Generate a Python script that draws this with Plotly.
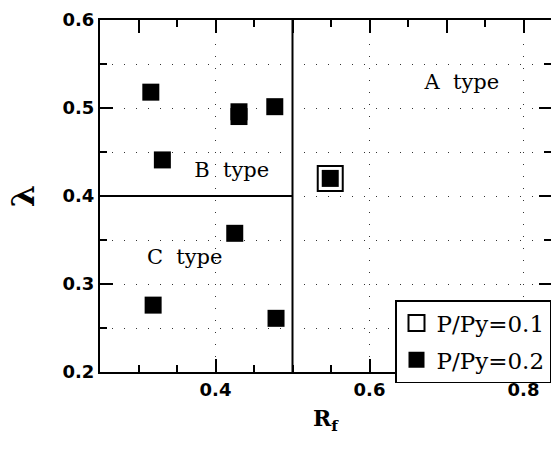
import plotly.graph_objects as go

# Rf and lambda for each specimen
rf_p01 = [0.549]
lam_p01 = [0.420]

rf_p02 = [0.316, 0.331, 0.4305, 0.4305, 0.477, 0.549, 0.319, 0.425, 0.4786]
lam_p02 = [0.518, 0.441, 0.4957, 0.4903, 0.5015, 0.420, 0.276, 0.3576, 0.261]

# Failure-type region boundaries
bound_v_x = [0.5, 0.5]
bound_v_y = [0.2, 0.6]
bound_h_x = [0.25, 0.5]
bound_h_y = [0.4, 0.4]

# Region names
region_text = ["A  type", "B  type", "C  type"]
region_x = [0.72, 0.421, 0.36]
region_y = [0.528, 0.4276, 0.329]

x_range = [0.25, 0.8357]
y_range = [0.2, 0.6]

serif = "DejaVu Serif"
grid_dash = "1px,11px"

fig = go.Figure()

for bx, by in ((bound_v_x, bound_v_y), (bound_h_x, bound_h_y)):
    fig.add_trace(go.Scatter(x=bx, y=by, mode="lines",
                             line=dict(color="black", width=2),
                             showlegend=False, hoverinfo="skip"))

fig.add_trace(go.Scatter(x=region_x, y=region_y, mode="text", text=region_text,
                         textfont=dict(family=serif, size=21, color="black"),
                         showlegend=False, hoverinfo="skip"))

fig.add_trace(go.Scatter(x=rf_p01, y=lam_p01, mode="markers", name="P/Py=0.1",
                         legendgroup="a",
                         marker=dict(symbol="square-open", size=25, color="black",
                                     line=dict(width=2))))
fig.add_trace(go.Scatter(x=rf_p02, y=lam_p02, mode="markers", name="P/Py=0.2",
                         legendgroup="b",
                         marker=dict(symbol="square", size=17, color="black",
                                     line=dict(width=0))))

# Empty traces that bring up the top and right frame axes
fig.add_trace(go.Scatter(x=[None], y=[None], xaxis="x2", yaxis="y2",
                         showlegend=False, hoverinfo="skip"))

frame_minor = dict(dtick=0.05, tick0=0.25, ticks="inside", ticklen=7,
                   tickcolor="black", tickwidth=1.5)

fig.update_layout(
    width=551, height=449,
    margin=dict(l=100, r=0, t=20, b=77),
    paper_bgcolor="white", plot_bgcolor="white",
    showlegend=True,
    legend=dict(x=(395 - 100) / 451, y=(372 - 300) / 352, xanchor="left", yanchor="top",
                bordercolor="black", borderwidth=1.5, bgcolor="white",
                font=dict(family=serif, size=23, color="black"),
                tracegroupgap=4, itemsizing="trace"),
    xaxis=dict(range=x_range, dtick=0.1, tick0=0.2, showline=True, linecolor="black",
               linewidth=2, ticks="inside", ticklen=13, tickwidth=1.5,
               tickcolor="black", tickformat=".1f",
               tickvals=[0.4, 0.6, 0.8],
               tickfont=dict(family="DejaVu Sans", size=18, color="black", weight="bold"),
               showgrid=True, gridcolor="#333", gridwidth=1, griddash=grid_dash,
               minor=dict(frame_minor, showgrid=False),
               zeroline=False,
               title=dict(text="<b>R<sub>f</sub></b>",
                          font=dict(family=serif, size=22, color="black"), standoff=12)),
    yaxis=dict(range=y_range, dtick=0.1, tick0=0.2, showline=True, linecolor="black",
               linewidth=2, ticks="inside", ticklen=13, tickwidth=1.5,
               tickcolor="black", tickformat=".1f",
               tickfont=dict(family="DejaVu Sans", size=18, color="black", weight="bold"),
               showgrid=True, gridcolor="#333", gridwidth=1, griddash=grid_dash,
               minor=dict(frame_minor, showgrid=True, gridcolor="#333", gridwidth=1,
                          griddash=grid_dash),
               zeroline=False,
               title=dict(text="<b>λ</b>",
                          font=dict(family=serif, size=32, color="black"), standoff=18)),
    xaxis2=dict(range=x_range, overlaying="x", side="top", anchor="y2", dtick=0.1,
                tick0=0.2, showline=True, linecolor="black", linewidth=2,
                ticks="inside", ticklen=13, tickwidth=1.5, tickcolor="black",
                showticklabels=False, showgrid=False, zeroline=False,
                minor=frame_minor),
    yaxis2=dict(range=y_range, overlaying="y", side="right", anchor="x2", dtick=0.1,
                tick0=0.2, showline=False, ticks="inside", ticklen=12, tickwidth=1.5,
                tickcolor="black", showticklabels=False, showgrid=False, zeroline=False,
                minor=frame_minor),
)

fig.write_html("out.html")
